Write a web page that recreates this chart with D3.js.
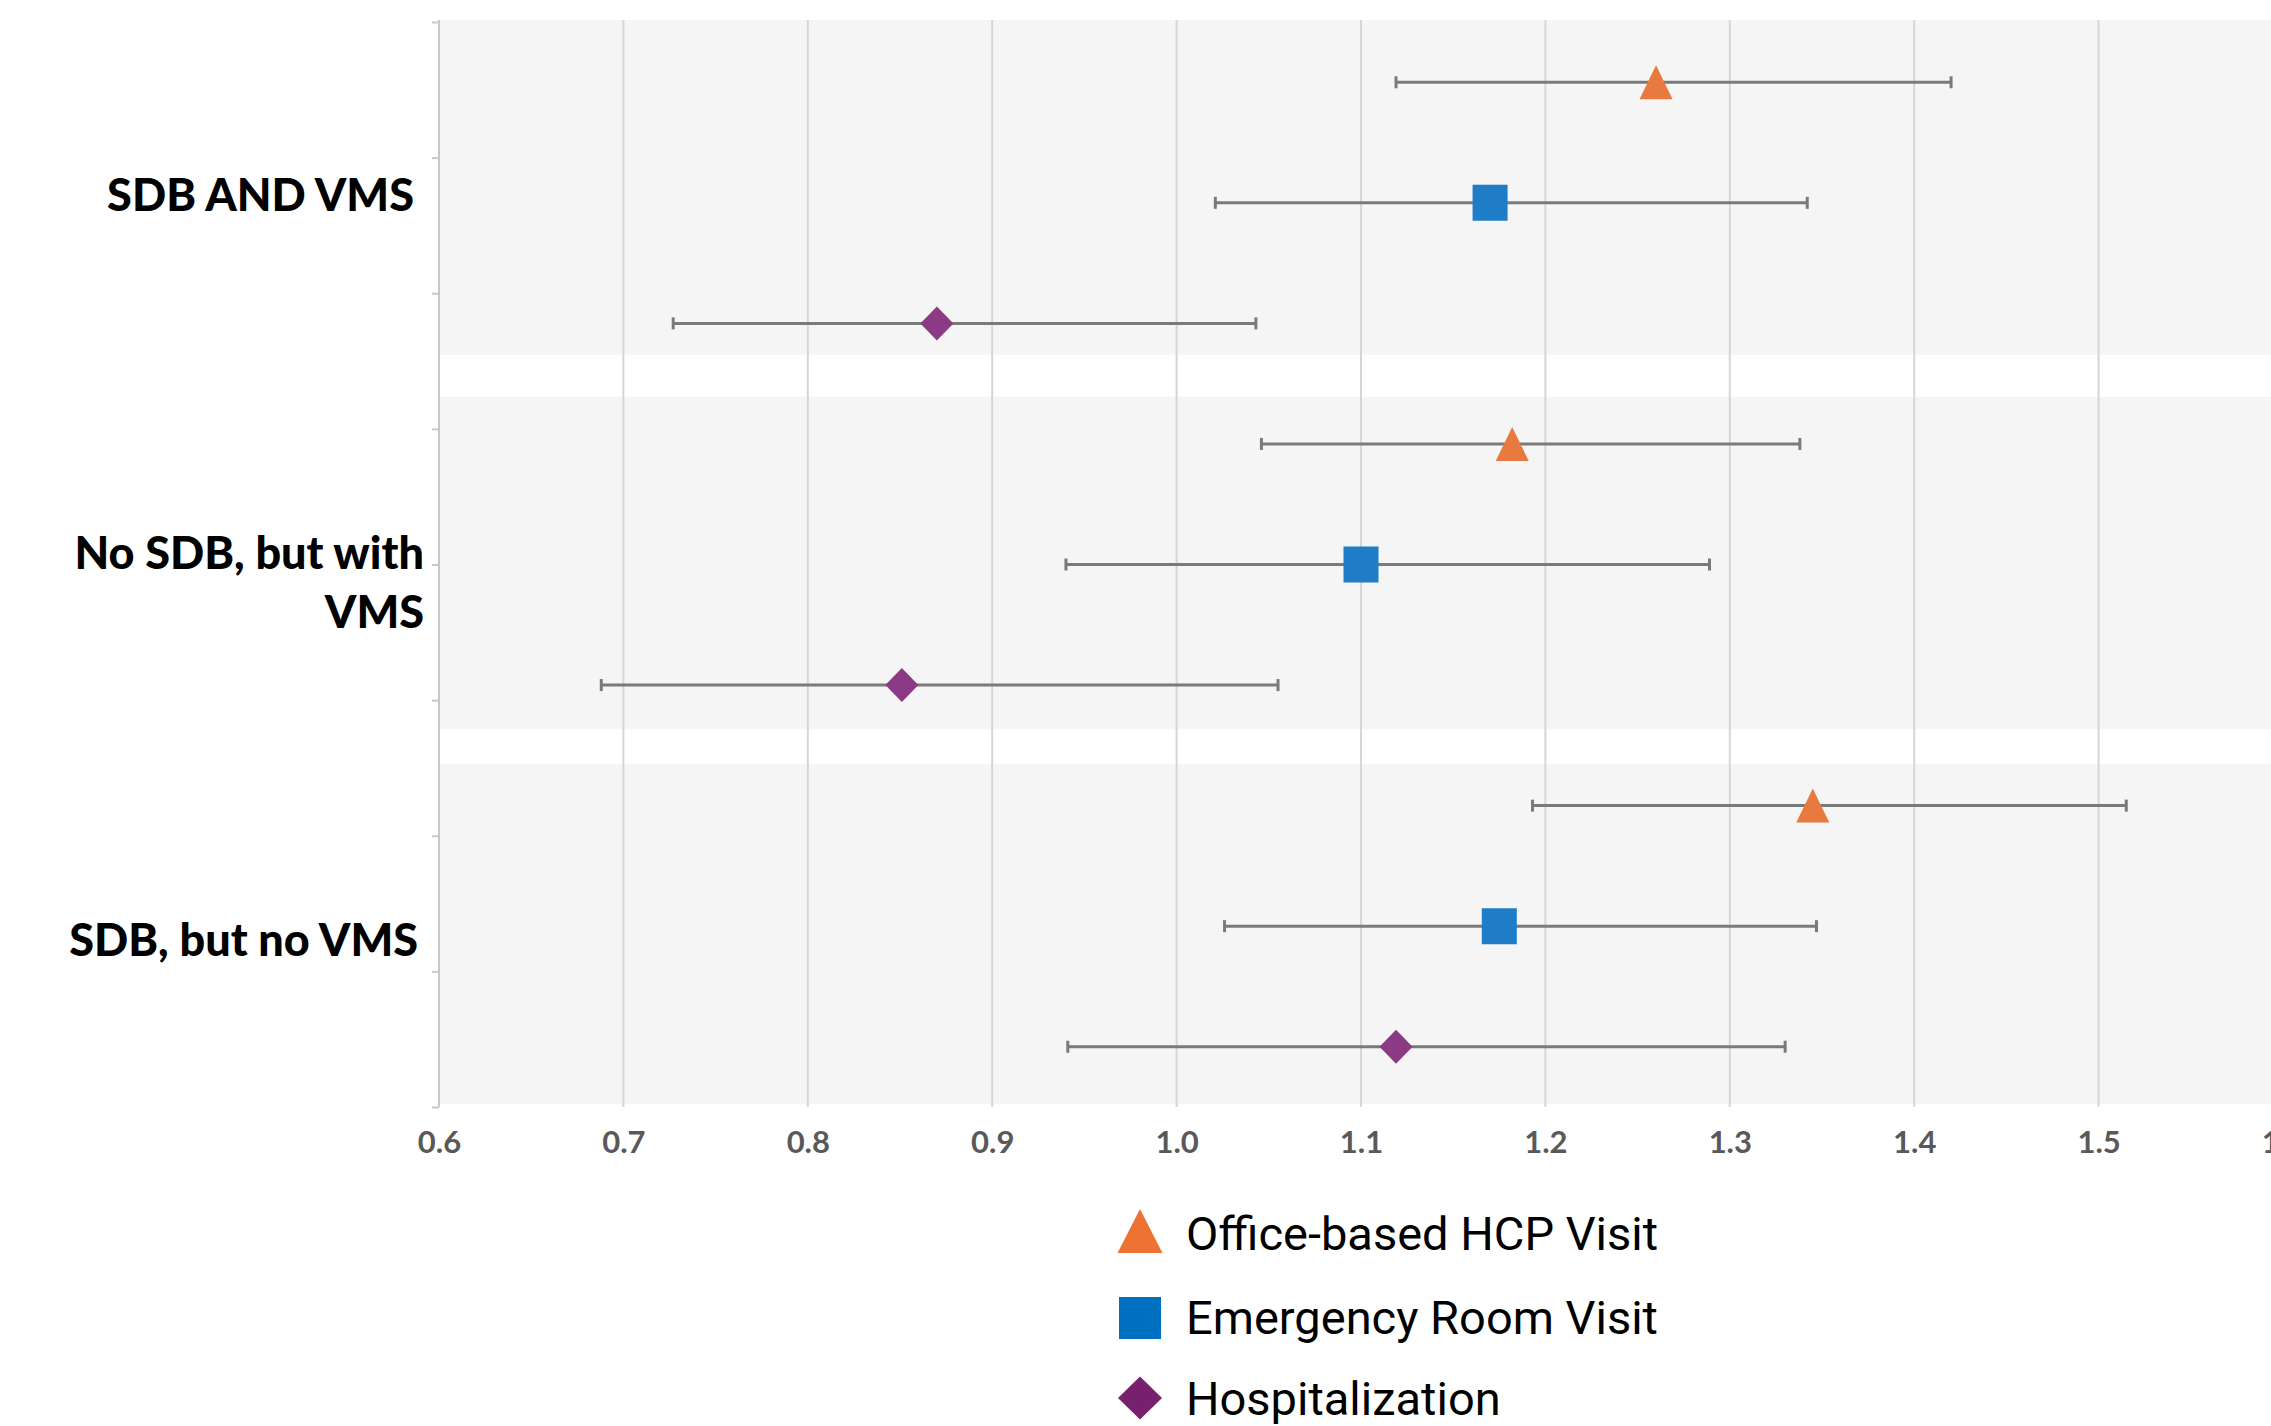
<!DOCTYPE html>
<html>
<head>
<meta charset="utf-8">
<script src="https://cdn.jsdelivr.net/npm/d3@7"></script>
<style>
  html, body { margin: 0; padding: 0; background: #ffffff; }
  svg { display: block; }
</style>
</head>
<body>
<div id="chart"></div>
<script>
// ---------------- DATA ----------------
const categories = ["SDB AND VMS", "No SDB, but with VMS", "SDB, but no VMS"];
const categoryLines = [["SDB AND VMS"], ["No SDB, but with", "VMS"], ["SDB, but no VMS"]];
const seriesNames = ["Office-based HCP Visit", "Emergency Room Visit", "Hospitalization"];

const officeEst = [1.260, 1.182, 1.345];
const officeLo  = [1.119, 1.046, 1.193];
const officeHi  = [1.420, 1.338, 1.515];

const erEst = [1.170, 1.100, 1.175];
const erLo  = [1.021, 0.940, 1.026];
const erHi  = [1.342, 1.289, 1.347];

const hospEst = [0.870, 0.851, 1.119];
const hospLo  = [0.727, 0.688, 0.941];
const hospHi  = [1.043, 1.055, 1.330];

const xTickValues = [0.6, 0.7, 0.8, 0.9, 1.0, 1.1, 1.2, 1.3, 1.4, 1.5, 1.6];

// ---------------- LAYOUT / STYLE ----------------
const W = 2271, H = 1426;
const plotLeft = 439, plotTop = 22, plotBottom = 1107;
const chartMarker = { office: "#E8793F", er: "#1F7CC6", hosp: "#8A3B84" };
const legendMarker = { office: "#ED7335", er: "#0070C0", hosp: "#77206D" };

const svg = d3.select("#chart").append("svg")
  .attr("width", W).attr("height", H)
  .attr("viewBox", `0 0 ${W} ${H}`);

// x scale: 0.6 -> 439, 0.1 = 184.4px
const x = d3.scaleLinear().domain([0.6, 1.6]).range([plotLeft, plotLeft + 1844]);

// rows: 3 groups x 3 series
const rows = [];
const seriesData = [
  { key: "office", est: officeEst, lo: officeLo, hi: officeHi },
  { key: "er", est: erEst, lo: erLo, hi: erHi },
  { key: "hosp", est: hospEst, lo: hospLo, hi: hospHi }
];
categories.forEach((c, gi) => {
  seriesData.forEach((s, si) => {
    rows.push({ id: gi + "-" + si, group: gi, key: s.key, est: s.est[gi], lo: s.lo[gi], hi: s.hi[gi] });
  });
});

const y = d3.scaleBand().domain(rows.map(r => r.id)).range([plotTop, plotBottom]).padding(0);
const yc = id => y(id) + y.bandwidth() / 2;

// background group bands
const padTop = [-2, 13, 19];
const padBot = [29, 16, 3];
const bandG = svg.append("g");
categories.forEach((c, gi) => {
  const top = y(gi + "-0") + padTop[gi];
  const bottom = y(gi + "-2") + y.bandwidth() - padBot[gi];
  bandG.append("rect")
    .attr("x", plotLeft).attr("y", top)
    .attr("width", W - plotLeft).attr("height", bottom - top)
    .attr("fill", "#f5f5f5");
});

// vertical gridlines
svg.append("g").selectAll("line")
  .data(xTickValues.slice(1))
  .join("line")
  .attr("x1", d => x(d)).attr("x2", d => x(d))
  .attr("y1", 20).attr("y2", plotBottom)
  .attr("stroke", "#d6d6d6").attr("stroke-width", 2);

// x axis labels
const xAxis = d3.axisBottom(x).tickValues(xTickValues).tickFormat(d3.format(".1f")).tickSize(0).tickPadding(0);
const xg = svg.append("g").attr("transform", `translate(0, ${plotBottom})`).call(xAxis);
xg.select(".domain").remove();
xg.selectAll("text")
  .attr("y", 46).attr("dy", 0)
  .attr("fill", "#595959")
  .style("font-family", "Lato, 'Noto Sans', sans-serif")
  .style("font-weight", "700")
  .style("font-size", "31px");

// left axis line and ticks (8 intervals)
const yTickScale = d3.scaleLinear().domain([0, 8]).range([plotTop, plotBottom]);
const yAxis = d3.axisLeft(yTickScale).tickValues(d3.range(0, 9)).tickSize(7).tickFormat("");
const yg = svg.append("g").attr("transform", `translate(${plotLeft}, 0)`).call(yAxis);
yg.select(".domain").attr("stroke", "#c8c8c8").attr("stroke-width", 2).attr("d", `M0,20V${plotBottom}`);
yg.selectAll(".tick line").attr("stroke", "#c8c8c8").attr("stroke-width", 2);

// category labels
const labelDy = [8, 4, 30];
const labelRight = [414, 424, 418];
const lineH = 59;
const labG = svg.append("g");
categoryLines.forEach((lines, gi) => {
  const base = yc(gi + "-1") + labelDy[gi];
  const t = labG.append("text")
    .attr("text-anchor", "end")
    .attr("fill", "#000")
    .style("font-family", "Lato, 'Noto Sans', sans-serif")
    .style("font-weight", "900")
    .style("font-size", "45px");
  lines.forEach((ln, li) => {
    t.append("tspan").attr("x", labelRight[gi]).attr("y", base + li * lineH).text(ln);
  });
});

// error bars
const capH = 12;
const eb = svg.append("g").attr("stroke", "#7a7a7a").attr("stroke-width", 3).attr("fill", "none");
rows.forEach(r => {
  const cy = yc(r.id);
  eb.append("line").attr("x1", x(r.lo)).attr("x2", x(r.hi)).attr("y1", cy).attr("y2", cy);
  eb.append("line").attr("x1", x(r.lo)).attr("x2", x(r.lo)).attr("y1", cy - capH / 2).attr("y2", cy + capH / 2);
  eb.append("line").attr("x1", x(r.hi)).attr("x2", x(r.hi)).attr("y1", cy - capH / 2).attr("y2", cy + capH / 2);
});

// marker shapes
function shapePath(key, w, h) {
  if (key === "office") return `M0,${-h/2}L${w/2},${h/2}L${-w/2},${h/2}Z`;
  if (key === "er") return `M${-w/2},${-h/2}H${w/2}V${h/2}H${-w/2}Z`;
  return `M0,${-h/2}L${w/2},0L0,${h/2}L${-w/2},0Z`;
}
const markerSize = { office: [33, 34], er: [35, 36], hosp: [33, 34] };
svg.append("g").selectAll("path")
  .data(rows)
  .join("path")
  .attr("transform", r => `translate(${x(r.est)}, ${yc(r.id)})`)
  .attr("d", r => shapePath(r.key, markerSize[r.key][0], markerSize[r.key][1]))
  .attr("fill", r => chartMarker[r.key]);

// legend
const legendKeys = ["office", "er", "hosp"];
const legendSize = { office: [45, 44], er: [42, 42], hosp: [44, 43] };
const legendCy = [1231, 1318, 1398];
const legendBase = [1250, 1334, 1415];
const lg = svg.append("g");
legendKeys.forEach((k, i) => {
  lg.append("path")
    .attr("transform", `translate(1140, ${legendCy[i]})`)
    .attr("d", shapePath(k, legendSize[k][0], legendSize[k][1]))
    .attr("fill", legendMarker[k]);
  lg.append("text")
    .attr("x", 1186).attr("y", legendBase[i])
    .attr("fill", "#000")
    .style("font-family", "Roboto, 'Noto Sans', sans-serif")
    .style("font-size", "47px")
    .text(seriesNames[i]);
});
</script>
</body>
</html>
